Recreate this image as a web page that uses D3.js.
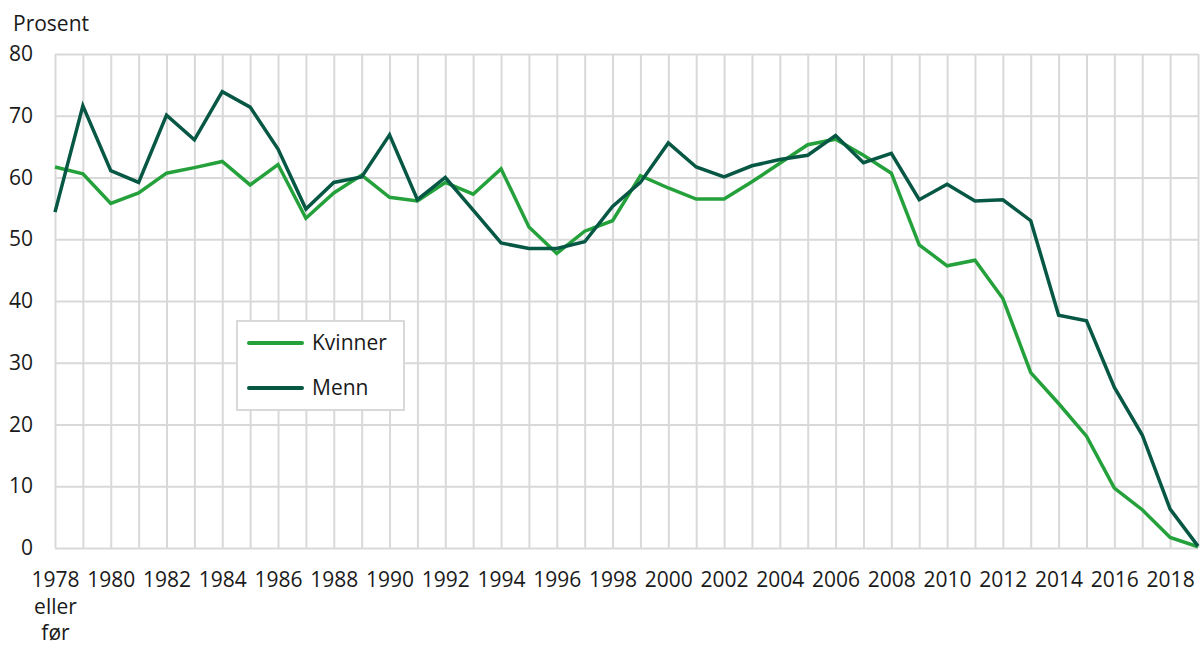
<!DOCTYPE html>
<html lang="no">
<head>
  <meta charset="utf-8">
  <title>Kvinner og menn, prosent</title>
  <script src="https://d3js.org/d3.v7.min.js"></script>
  <style>
    body { margin: 0; background: #fff; }
    text { font-family: "Open Sans", sans-serif; fill: #1a1a1a; }
    .grid line { stroke: #d9d9d9; stroke-width: 2; }
    .grid path.domain { display: none; }
    .axis path.domain, .axis line { display: none; }
    .axis text { font-size: 21px; fill: #1a1a1a; }
    .legend text { font-size: 21px; }
  </style>
</head>
<body>
<script>
// Data
const years = d3.range(1978, 2020);
const kvinner = [61.7, 60.6, 55.8, 57.5, 60.7, 61.6, 62.6, 58.8, 62.1, 53.4,
  57.5, 60.4, 56.8, 56.2, 59.2, 57.3, 61.4, 52.0, 47.7, 51.3,
  53.0, 60.3, 58.3, 56.5, 56.5, 59.3, 62.3, 65.3, 66.2, 63.6,
  60.7, 49.1, 45.7, 46.6, 40.4, 28.4, 23.4, 18.1, 9.7, 6.2,
  1.7, 0.2];
const menn = [54.4, 71.6, 61.1, 59.2, 70.1, 66.1, 73.9, 71.4, 64.6, 54.9,
  59.2, 60.1, 66.9, 56.4, 60.0, 54.7, 49.4, 48.5, 48.5, 49.6,
  55.3, 59.2, 65.6, 61.7, 60.1, 61.9, 62.9, 63.6, 66.8, 62.4,
  63.9, 56.4, 58.9, 56.2, 56.4, 53.0, 37.7, 36.8, 26.0, 18.3,
  6.3, 0.3];
const yTicks = [0, 10, 20, 30, 40, 50, 60, 70, 80];
const seriesNames = ["Kvinner", "Menn"];
const colors = ["#24a13a", "#075745"];

const width = 1200, height = 646;
const margin = { top: 54, right: 2, bottom: 98, left: 55 };
const innerW = width - margin.left - margin.right;
const innerH = height - margin.top - margin.bottom;

const svg = d3.select("body").append("svg")
  .attr("width", width).attr("height", height);
const g = svg.append("g")
  .attr("transform", `translate(${margin.left},${margin.top})`);

const x = d3.scaleLinear().domain([1978, 2019]).range([0, innerW]);
const y = d3.scaleLinear().domain([0, 80]).range([innerH, 0]);

// gridlines
g.append("g").attr("class", "grid")
  .attr("transform", `translate(0,${innerH})`)
  .call(d3.axisBottom(x).tickValues(years).tickSize(-innerH).tickFormat(""));
g.append("g").attr("class", "grid")
  .call(d3.axisLeft(y).tickValues(yTicks).tickSize(0 - innerW).tickFormat(""));

// axis labels
g.append("g").attr("class", "axis")
  .call(d3.axisLeft(y).tickValues(yTicks).tickSize(0).tickPadding(22));

const xAxis = g.append("g").attr("class", "axis")
  .attr("transform", `translate(0,${innerH})`)
  .call(d3.axisBottom(x).tickValues(years.filter(d => d % 2 === 0))
    .tickFormat(d3.format("d")).tickSize(0));
xAxis.selectAll(".tick text").attr("y", 39).attr("dy", null);
xAxis.selectAll(".tick").filter(d => d === 1978).each(function () {
  const t = d3.select(this);
  t.append("text").attr("y", 66).style("text-anchor", "middle").text("eller");
  t.append("text").attr("y", 92).style("text-anchor", "middle").text("før");
});

svg.append("text").attr("x", 13).attr("y", 31)
  .style("font-size", "21px").text("Prosent");

// lines
const line = d3.line().x((d, i) => x(years[i])).y(d => y(d));
[kvinner, menn].forEach((s, i) => {
  g.append("path").datum(s)
    .attr("fill", "none")
    .attr("stroke", colors[i])
    .attr("stroke-width", 3.5)
    .attr("d", line);
});

// legend
const legend = svg.append("g").attr("class", "legend")
  .attr("transform", "translate(237,321)");
legend.append("rect").attr("width", 167).attr("height", 89)
  .attr("fill", "#fff").attr("stroke", "#d9d9d9").attr("stroke-width", 2);
seriesNames.forEach((name, i) => {
  const row = legend.append("g").attr("transform", `translate(0,${22 + i * 45})`);
  row.append("line").attr("x1", 12).attr("x2", 65)
    .attr("stroke", colors[i]).attr("stroke-width", 4).attr("stroke-linecap", "round");
  row.append("text").attr("x", 75).attr("dy", "0.35em").text(name);
});
</script>
</body>
</html>
